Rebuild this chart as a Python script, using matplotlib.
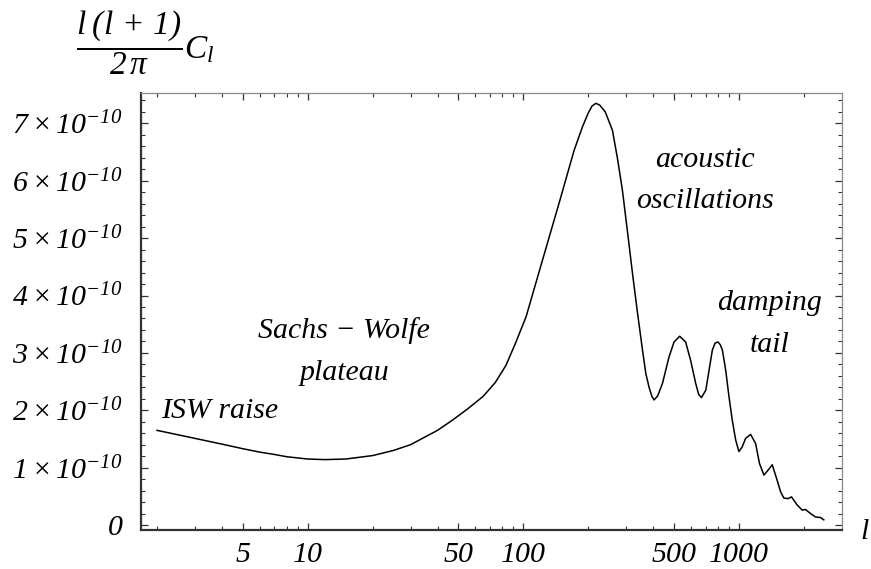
import numpy as np
import matplotlib
matplotlib.use("Agg")
import matplotlib.pyplot as plt
from matplotlib.ticker import FixedLocator, NullFormatter

plt.rcParams['font.family'] = ['Liberation Serif', 'DejaVu Serif']
plt.rcParams['font.style'] = 'italic'
plt.rcParams['mathtext.fontset'] = 'custom'
plt.rcParams['mathtext.rm'] = 'Liberation Serif:italic'
plt.rcParams['mathtext.it'] = 'Liberation Serif:italic'
plt.rcParams['mathtext.default'] = 'it'

# multipole l and l(l+1)C_l/2pi in units of 1e-10
ell = [2, 3, 4, 5, 6, 7, 8, 10, 12, 15, 20, 25, 30, 40, 47, 55, 65, 74,
       83, 92, 103, 123, 147, 172, 188, 200, 208, 217, 226, 240, 259,
       273, 288, 304, 321, 339, 357, 370, 383, 395, 404, 420, 442, 474,
       500, 531, 566, 597, 630, 650, 670, 702, 727, 753, 775, 800, 820,
       838, 868, 899, 931, 966, 1000, 1035, 1074, 1133, 1195, 1246, 1306,
       1368, 1427, 1504, 1560, 1615, 1690, 1753, 1862, 1964, 2036, 2148,
       2266, 2390, 2475]
cl = [1.65, 1.51, 1.41, 1.33, 1.27, 1.23, 1.19, 1.15, 1.14, 1.15, 1.21,
      1.30, 1.40, 1.65, 1.83, 2.02, 2.24, 2.48, 2.78, 3.17, 3.63, 4.63,
      5.63, 6.53, 6.94, 7.18, 7.30, 7.35, 7.32, 7.20, 6.88, 6.40, 5.84,
      5.12, 4.38, 3.68, 3.05, 2.64, 2.40, 2.24, 2.18, 2.25, 2.47, 2.93,
      3.19, 3.29, 3.19, 2.87, 2.47, 2.28, 2.22, 2.35, 2.70, 3.05, 3.17,
      3.19, 3.14, 3.05, 2.70, 2.24, 1.83, 1.48, 1.28, 1.36, 1.51, 1.58,
      1.42, 1.07, 0.87, 0.96, 1.05, 0.78, 0.58, 0.47, 0.46, 0.49, 0.35,
      0.26, 0.27, 0.20, 0.14, 0.13, 0.09]

xmajor = [5, 10, 50, 100, 500, 1000]
xmajor_labels = ['5', '10', '50', '100', '500', '1000']
xminor = [2, 3, 4, 6, 7, 8, 9, 20, 30, 40, 60, 70, 80, 90,
          200, 300, 400, 600, 700, 800, 900, 2000]
ymajor = [0, 1, 2, 3, 4, 5, 6, 7]
ymajor_labels = ['0'] + [r'$%d\times10^{-10}$' % v for v in ymajor[1:]]

fig = plt.figure(figsize=(8.71, 5.69), dpi=100)
ax = fig.add_axes([141/871, 1-530/569, (842-141)/871, (530-93)/569])

ax.plot(ell, cl, color='black', lw=1.1)

ax.set_xscale('log')
ax.set_xlim(1.686, 3006)
ax.set_ylim(-0.087, 7.53)

ax.xaxis.set_major_locator(FixedLocator(xmajor))
ax.set_xticklabels(xmajor_labels)
ax.xaxis.set_minor_locator(FixedLocator(xminor))
ax.xaxis.set_minor_formatter(NullFormatter())
ax.set_yticks(ymajor)
ax.set_yticklabels(ymajor_labels)
ax.yaxis.set_minor_locator(FixedLocator(np.arange(0, 7.6, 0.2)))

ax.tick_params(which='both', direction='in', top=True, right=True,
               color='#333333', labelsize=21.5)
ax.tick_params(which='major', length=5, width=0.9)
ax.tick_params(which='minor', length=3, width=0.8)
ax.tick_params(axis='x', pad=9)
ax.tick_params(axis='y', pad=13)

for side in ['left', 'bottom']:
    ax.spines[side].set_color('#333333')
    ax.spines[side].set_linewidth(1.6)
for side in ['top', 'right']:
    ax.spines[side].set_color('#8a8a8a')
    ax.spines[side].set_linewidth(0.9)

for axis in [ax.xaxis, ax.yaxis]:
    for t in axis.get_major_ticks() + axis.get_minor_ticks(len(axis.get_minorticklocs())):
        t.tick2line.set_color('#8a8a8a')

fs = 21.5
ax.text(2.08, 1.86, 'ISW raise', fontsize=fs, ha='left', va='baseline')
ax.text(14.8, 3.26, 'Sachs \u2212 Wolfe', fontsize=fs, ha='center', va='baseline')
ax.text(14.8, 2.53, 'plateau', fontsize=fs, ha='center', va='baseline')
ax.text(695, 6.24, 'acoustic', fontsize=fs, ha='center', va='baseline')
ax.text(695, 5.52, 'oscillations', fontsize=fs, ha='center', va='baseline')
ax.text(1393, 3.75, 'damping', fontsize=fs, ha='center', va='baseline')
ax.text(1393, 3.01, 'tail', fontsize=fs, ha='center', va='baseline')

fig.text(76/871, 1-43/569, r'$\dfrac{l\;(l\,+\,1)}{2\,\pi}C_l$', fontsize=24,
         ha='left', va='center')
fig.text(865/871, 1-532/569, 'l', fontsize=fs, ha='center', va='center')

fig.savefig('out.png', dpi=100)
